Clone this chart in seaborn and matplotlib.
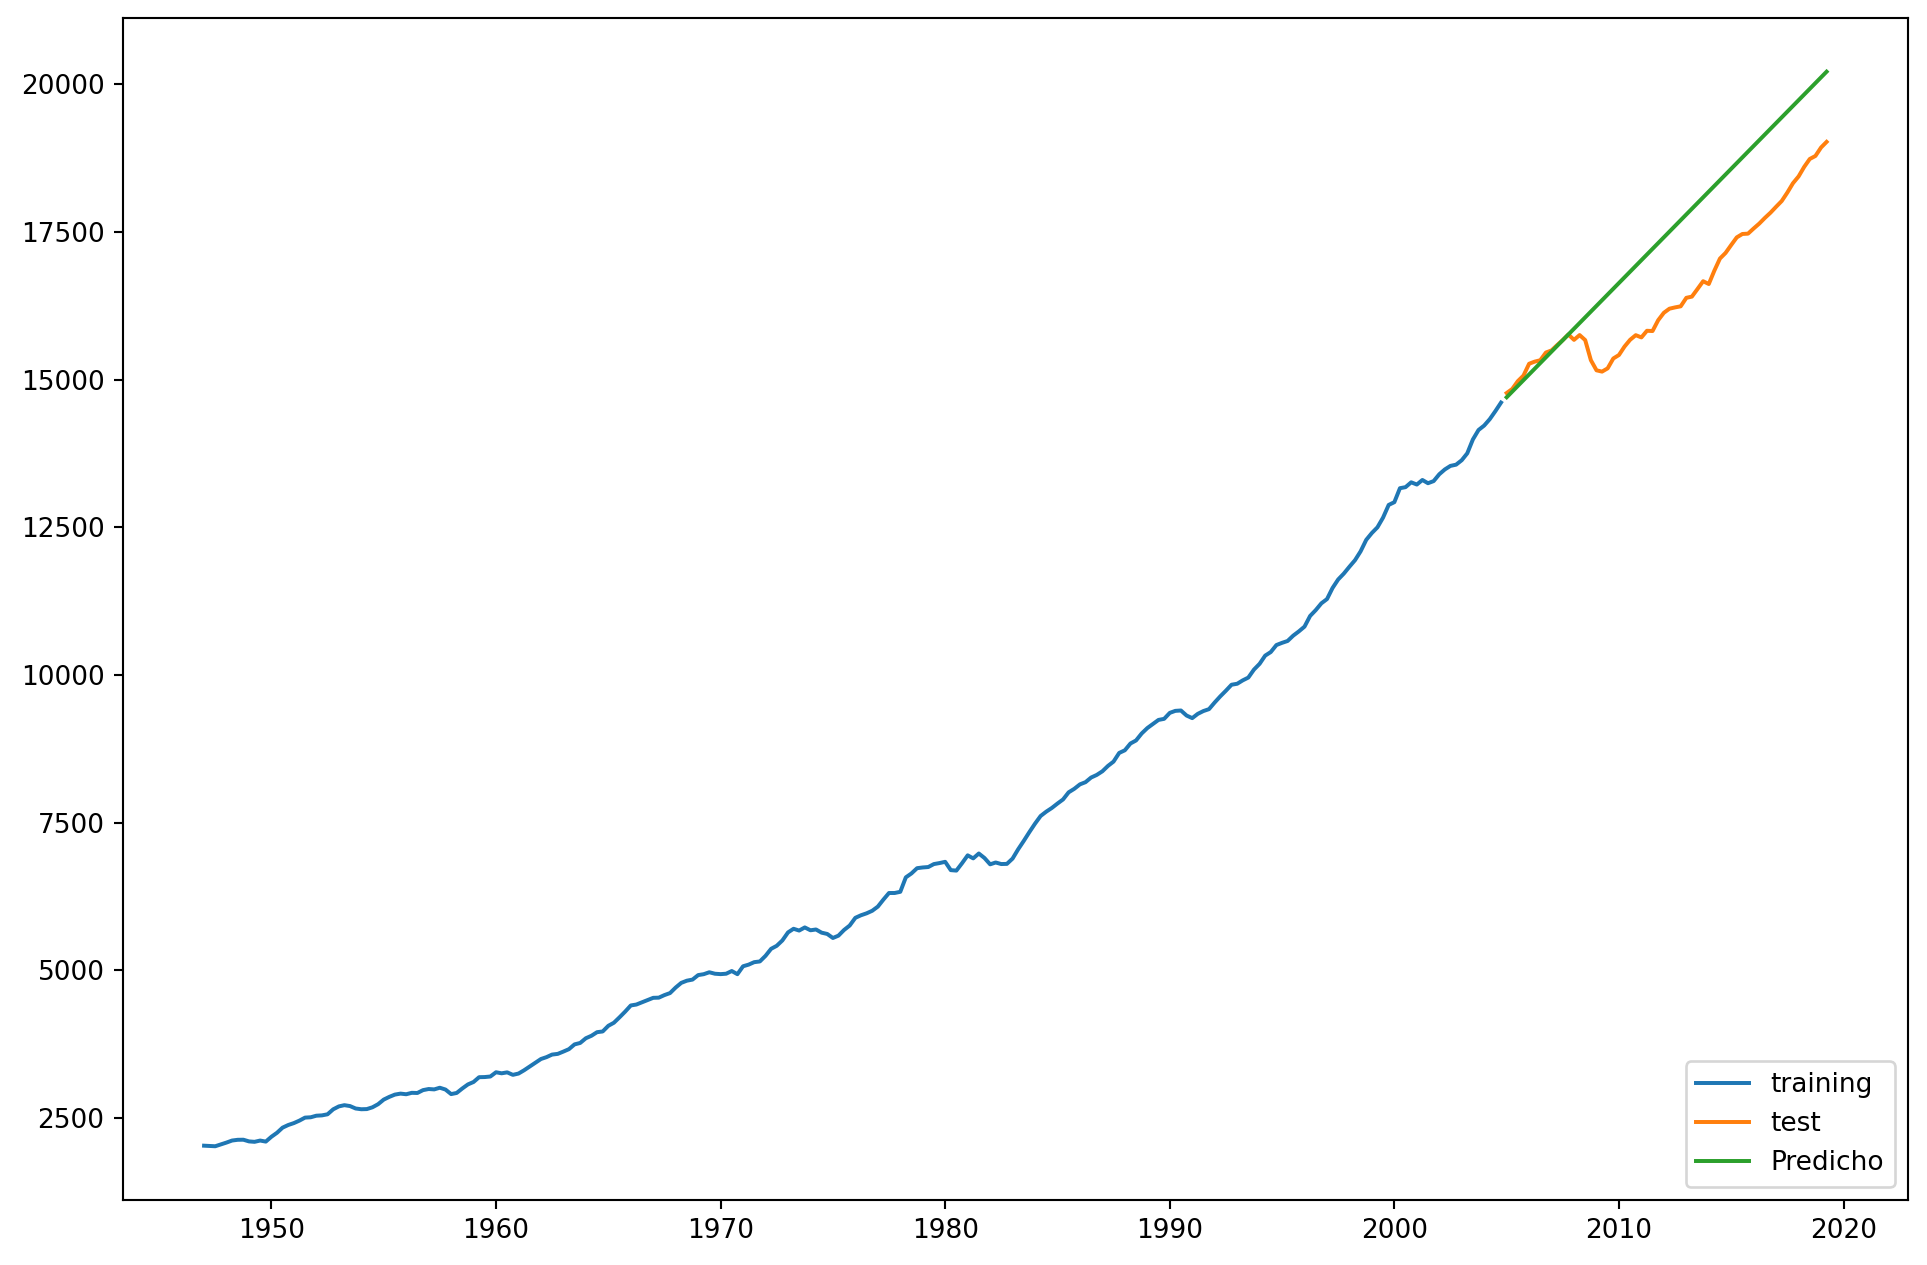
import pandas as pd
import matplotlib
matplotlib.use('Agg')
import matplotlib.pyplot as plt
import seaborn as sns

train_values = [
    2033.1, 2027.6, 2023.5, 2055.1,
    2086.0, 2120.4, 2132.6, 2134.0,
    2105.6, 2098.4, 2120.0, 2102.3,
    2184.9, 2251.5, 2338.5, 2383.2,
    2415.7, 2457.5, 2508.2, 2513.7,
    2540.6, 2546.0, 2564.4, 2648.6,
    2697.9, 2718.7, 2703.7, 2662.5,
    2649.8, 2652.6, 2682.6, 2735.1,
    2813.2, 2858.9, 2897.6, 2914.4,
    2903.7, 2927.7, 2925.0, 2973.4,
    2992.2, 2985.7, 3014.0, 2983.3,
    2906.3, 2925.4, 3000.7, 3069.9,
    3111.4, 3192.4, 3194.7, 3203.8,
    3275.8, 3258.1, 3274.0, 3232.0,
    3253.8, 3309.1, 3372.6, 3438.7,
    3500.1, 3531.7, 3575.1, 3586.8,
    3625.9, 3666.7, 3747.3, 3771.8,
    3851.4, 3893.3, 3954.1, 3966.3,
    4062.3, 4113.6, 4205.1, 4301.7,
    4406.4, 4421.7, 4459.2, 4495.8,
    4535.6, 4538.4, 4581.3, 4615.9,
    4709.9, 4788.7, 4825.6, 4844.2,
    4920.4, 4935.6, 4968.2, 4943.3,
    4936.6, 4943.6, 4989.2, 4935.7,
    5069.7, 5097.2, 5139.1, 5151.2,
    5245.9, 5365.0, 5415.7, 5506.4,
    5642.7, 5704.1, 5674.1, 5727.0,
    5678.7, 5692.2, 5638.4, 5616.5,
    5548.2, 5587.8, 5683.4, 5759.0,
    5889.5, 5932.7, 5965.3, 6008.5,
    6079.5, 6197.7, 6309.5, 6309.7,
    6329.8, 6574.4, 6640.5, 6729.8,
    6741.9, 6749.1, 6799.2, 6816.2,
    6837.6, 6696.8, 6688.8, 6813.5,
    6947.0, 6895.6, 6978.1, 6902.1,
    6794.9, 6825.9, 6799.8, 6802.5,
    6892.1, 7048.0, 7189.9, 7339.9,
    7483.4, 7612.7, 7686.1, 7749.2,
    7824.2, 7893.1, 8013.7, 8073.2,
    8148.6, 8185.3, 8263.6, 8308.0,
    8369.9, 8460.2, 8533.6, 8680.2,
    8725.0, 8839.6, 8891.4, 9009.9,
    9101.5, 9170.9, 9238.9, 9257.1,
    9358.3, 9392.3, 9398.5, 9312.9,
    9269.4, 9341.6, 9388.8, 9421.6,
    9534.3, 9637.7, 9732.9, 9834.5,
    9850.9, 9908.3, 9955.6, 10091.0,
    10188.9, 10327.0, 10387.4, 10506.4,
    10543.6, 10575.1, 10665.1, 10737.5,
    10817.9, 10998.3, 11096.9, 11212.2,
    11284.6, 11472.1, 11615.6, 11715.4,
    11832.5, 11942.0, 12091.6, 12287.0,
    12403.3, 12498.7, 12662.4, 12877.6,
    12924.2, 13160.8, 13178.4, 13260.5,
    13222.7, 13300.0, 13245.0, 13280.9,
    13397.0, 13478.1, 13538.1, 13559.0,
    13634.3, 13751.5, 13985.1, 14145.6,
    14221.1, 14329.5, 14464.9, 14609.9,
]

# 2005Q1 .. 2019Q2 (test)
test_values = [
    14771.6, 14839.8, 14972.1, 15066.6,
    15267.0, 15302.7, 15326.4, 15456.9,
    15493.3, 15582.1, 15666.7, 15762.0,
    15671.4, 15752.3, 15667.0, 15328.0,
    15155.9, 15134.1, 15189.2, 15356.1,
    15415.1, 15557.3, 15671.9, 15750.6,
    15712.8, 15825.1, 15820.7, 16004.1,
    16129.4, 16198.8, 16220.7, 16239.1,
    16382.9, 16403.2, 16531.7, 16663.6,
    16616.5, 16841.5, 17047.1, 17143.0,
    17277.6, 17405.7, 17463.2, 17468.9,
    17556.8, 17639.4, 17735.1, 17824.2,
    17925.3, 18021.0, 18163.6, 18322.5,
    18438.3, 18598.1, 18732.7, 18783.5,
    18927.3, 19021.9,
]

# linear trend forecast: first and last points
pred_dates = ['2005-01-01', '2019-04-01']
pred_values = [14700, 20210]

train = pd.DataFrame({'ds': pd.date_range('1947-01-01', periods=len(train_values), freq='QS'),
                      'y': train_values})
test = pd.DataFrame({'ds': pd.date_range('2005-01-01', periods=len(test_values), freq='QS'),
                     'y': test_values})
pred = pd.DataFrame({'ds': pd.to_datetime(pred_dates), 'y': pred_values})

DPI = 190
fig, ax = plt.subplots(figsize=(1927 / DPI, 1265 / DPI), dpi=DPI)
fig.subplots_adjust(left=0.0638, right=0.990, top=0.9858, bottom=0.0514)

sns.lineplot(data=train, x='ds', y='y', ax=ax, color='tab:blue', lw=1.5, label='training')
sns.lineplot(data=test, x='ds', y='y', ax=ax, color='tab:orange', lw=1.5, label='test')
sns.lineplot(data=pred, x='ds', y='y', ax=ax, color='tab:green', lw=1.5, label='Predicho')

ax.set_xlabel('')
ax.set_ylabel('')
ax.legend(loc='lower right')

plt.savefig('out.png', dpi=DPI)
